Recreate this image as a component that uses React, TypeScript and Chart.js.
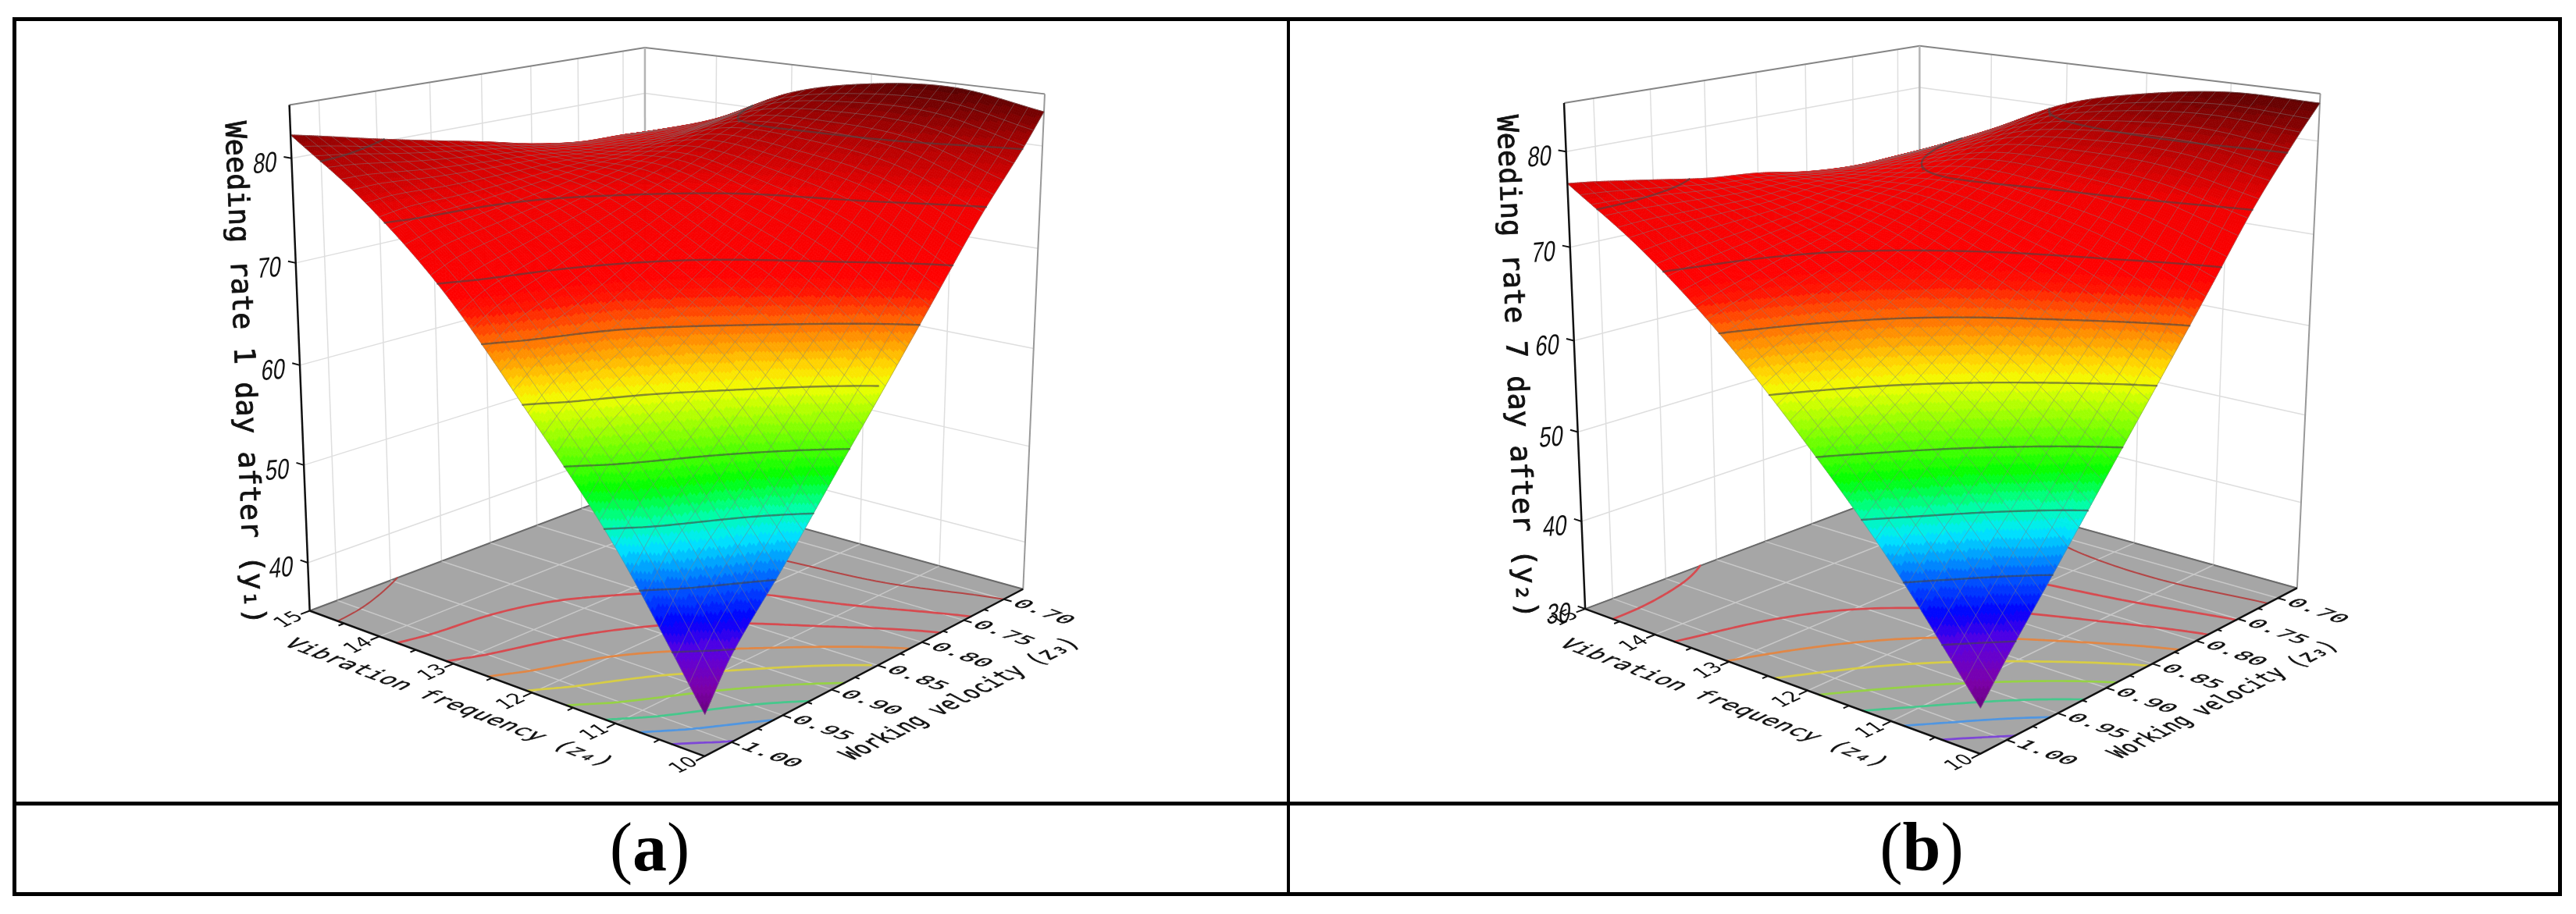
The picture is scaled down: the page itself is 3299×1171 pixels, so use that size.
import React, { useEffect, useRef } from "react";
import { Chart, registerables } from "chart.js";

Chart.register(...registerables);

// ---- data ----
const FREQUENCY = [10, 11, 12, 13, 14, 15];
const VELOCITY = [0.675, 0.7, 0.75, 0.8, 0.85, 0.9, 0.95, 1.0, 1.025];
const RATE_1_DAY = [
  [83.3, 80.2, 74.6, 68.2, 61.8, 55.5, 49.1, 43.1, 38.8],
  [84.6, 82.3, 78.0, 73.2, 68.4, 63.8, 59.1, 54.6, 51.3],
  [84.0, 82.4, 79.3, 75.9, 72.7, 69.6, 66.4, 63.5, 61.2],
  [82.1, 81.3, 79.6, 77.8, 76.2, 74.6, 73.1, 71.6, 70.3],
  [78.3, 77.9, 77.4, 77.1, 77.2, 77.1, 77.1, 77.3, 77.1],
  [75.7, 75.9, 76.1, 76.9, 78.1, 79.2, 80.35, 81.6, 82.2],
];
const RATE_7_DAY = [
  [84.0, 81.15, 74.9, 67.5, 60.2, 53.0, 45.7, 38.5, 34.6],
  [84.0, 81.8, 76.9, 71.2, 65.7, 60.1, 54.6, 49.2, 46.2],
  [82.7, 81.1, 77.4, 73.3, 69.5, 65.6, 61.8, 58.0, 55.9],
  [80.4, 79.3, 77.0, 74.5, 72.3, 69.9, 67.8, 65.6, 64.4],
  [76.2, 75.7, 74.6, 73.7, 73.3, 72.5, 72.1, 71.7, 71.3],
  [72.3, 72.3, 72.2, 72.7, 73.7, 74.3, 75.3, 76.3, 76.7],
];
const CONTOURS_1_DAY = [43.4, 48, 52.6, 57.2, 61.8, 66.4, 71, 75.6, 80.2];
const CONTOURS_7_DAY = [39.6, 44.6, 49.6, 54.6, 59.6, 64.6, 69.6, 74.6, 79.6];
const CONTOUR_COLORS = ["#7d46d7", "#5096e1", "#46c88c", "#96d246", "#d7cd46", "#e18746", "#d74b50", "#d74b50", "#b44646"];
const FREQ_TICKS = [10, 11, 12, 13, 14, 15];
const FREQ_MINOR = [10.5, 11.5, 12.5, 13.5, 14.5];
const VEL_TICKS = [0.7, 0.75, 0.8, 0.85, 0.9, 0.95, 1.0];
const VEL_MINOR = [0.725, 0.775, 0.825, 0.875, 0.925, 0.975];
const RATE_TICKS_A = [40, 50, 60, 70, 80];
const RATE_TICKS_B = [30, 40, 50, 60, 70, 80];
const COLOR_STOPS: [number, number, number, number][] = [
  [0, 105, 0, 130], [0.04, 125, 0, 170], [0.1, 90, 0, 225], [0.145, 0, 0, 255],
  [0.2, 0, 90, 255], [0.27, 0, 235, 255], [0.31, 0, 255, 160], [0.36, 0, 255, 0],
  [0.41, 90, 255, 0], [0.5, 240, 255, 0], [0.53, 255, 220, 0], [0.6, 255, 110, 0],
  [0.65, 255, 20, 0], [0.68, 255, 0, 0], [0.8, 242, 0, 0], [0.9, 175, 0, 0], [1, 85, 0, 0],
];

// ---- layout of each panel: page-pixel calibration of the view ----
const PANEL_A = {
  box: { x: 23, y: 30, w: 1625, h: 996 },
  rate: RATE_1_DAY, contours: CONTOURS_1_DAY, ticks: RATE_TICKS_A,
  zMin: 35, zMax: 85, cMin: 38.8, cMax: 84.8,
  title: "Weeding rate 1 day after (y\u2081)",
  titleAt: [311, 478], freqAt: [574, 901], velAt: [1231, 896], velFont: 26,
  calib: [
    [15, 1.025, 35, 398, 782], [15, 1.025, 85, 370.5, 133], [10, 0.675, 35, 1311, 754],
    [10, 0.675, 85, 1338, 122], [10, 1.025, 35, 906, 968], [15, 0.675, 85, 825, 60],
    [15, 0.675, 35, 826.5, 621], [15, 1.025, 40, 395.5, 721.7], [15, 1.025, 50, 390.2, 597.5],
    [15, 1.025, 60, 384.7, 468.5], [15, 1.025, 70, 379.1, 337], [15, 1.025, 80, 373.4, 202.6],
    [14, 1.025, 35, 484.7, 815], [13, 1.025, 35, 576.5, 851.7], [12, 1.025, 35, 681, 885],
    [11, 1.025, 35, 785.7, 928],
  ],
};
const PANEL_B = {
  box: { x: 1653, y: 30, w: 1623, h: 996 },
  rate: RATE_7_DAY, contours: CONTOURS_7_DAY, ticks: RATE_TICKS_B,
  zMin: 30, zMax: 85, cMin: 34.6, cMax: 84.6,
  title: "Weeding rate 7 day after (y\u2082)",
  titleAt: [1940, 470], freqAt: [2207, 901.5], velAt: [2849, 897], velFont: 25,
  calib: [
    [15, 1.025, 30, 2031, 780], [15, 1.025, 85, 2003, 130.4], [10, 0.675, 30, 2942, 753],
    [10, 0.675, 85, 2971, 120.6], [10, 1.025, 30, 2538.6, 966.7], [15, 0.675, 85, 2458, 57.7],
    [15, 0.675, 30, 2459, 620], [15, 1.025, 40, 2026, 668], [15, 1.025, 50, 2021.3, 554.5],
    [15, 1.025, 60, 2016.3, 438.5], [15, 1.025, 70, 2011, 318], [15, 1.025, 80, 2005.7, 194],
    [14, 1.025, 30, 2117, 811.6], [13, 1.025, 30, 2212.7, 846.9], [12, 1.025, 30, 2315, 884.5],
    [11, 1.025, 30, 2421, 923.5],
  ],
};

type Pt = { x: number; y: number };
const GAP: Pt = { x: NaN, y: NaN };

function solve(A: number[][], b: number[]) {
  const n = b.length;
  const M = A.map((r, i) => [...r, b[i]]);
  for (let c = 0; c < n; c++) {
    let p = c;
    for (let r = c + 1; r < n; r++) if (Math.abs(M[r][c]) > Math.abs(M[p][c])) p = r;
    [M[c], M[p]] = [M[p], M[c]];
    for (let r = 0; r < n; r++) {
      if (r === c) continue;
      const k = M[r][c] / M[c][c];
      for (let j = c; j <= n; j++) M[r][j] -= k * M[c][j];
    }
  }
  return M.map((r, i) => r[n] / r[i]);
}

function makeProjector(panel: any) {
  const norm = (f: number, v: number, z: number) => [
    (f - 10) / 5, (v - 0.675) / 0.35, (z - panel.zMin) / (panel.zMax - panel.zMin),
  ];
  const rows: number[][] = [];
  const rhs: number[] = [];
  for (const [f, v, z, px, py] of panel.calib) {
    const [a, b, c] = norm(f, v, z);
    const u = px / 1000, w = py / 1000;
    rows.push([1, a, b, c, 0, 0, 0, 0, -u * a, -u * b, -u * c]); rhs.push(u);
    rows.push([0, 0, 0, 0, 1, a, b, c, -w * a, -w * b, -w * c]); rhs.push(w);
  }
  const n = 11;
  const AtA = Array.from({ length: n }, () => new Array(n).fill(0));
  const Atb = new Array(n).fill(0);
  rows.forEach((r, k) => {
    for (let i = 0; i < n; i++) {
      Atb[i] += r[i] * rhs[k];
      for (let j = 0; j < n; j++) AtA[i][j] += r[i] * r[j];
    }
  });
  const p = solve(AtA, Atb);
  return (f: number, v: number, z: number): Pt => {
    const [a, b, c] = norm(f, v, z);
    const d = 1 + p[8] * a + p[9] * b + p[10] * c;
    return {
      x: (1000 * (p[0] + p[1] * a + p[2] * b + p[3] * c)) / d,
      y: (1000 * (p[4] + p[5] * a + p[6] * b + p[7] * c)) / d,
    };
  };
}

// smooth drawing of the surface between the values that were read
function smoothAt(xs: number[], ys: number[], x: number) {
  let i = 0;
  while (i < xs.length - 2 && x > xs[i + 1]) i++;
  const slope = (k: number) =>
    k === 0 ? (ys[1] - ys[0]) / (xs[1] - xs[0])
      : k === xs.length - 1 ? (ys[k] - ys[k - 1]) / (xs[k] - xs[k - 1])
        : (ys[k + 1] - ys[k - 1]) / (xs[k + 1] - xs[k - 1]);
  const h = xs[i + 1] - xs[i];
  const t = (x - xs[i]) / h;
  const t2 = t * t, t3 = t2 * t;
  return (2 * t3 - 3 * t2 + 1) * ys[i] + (t3 - 2 * t2 + t) * h * slope(i) +
    (-2 * t3 + 3 * t2) * ys[i + 1] + (t3 - t2) * h * slope(i + 1);
}

function colorAt(frac: number) {
  const q = Math.min(1, Math.max(0, frac));
  let i = 0;
  while (i < COLOR_STOPS.length - 2 && q > COLOR_STOPS[i + 1][0]) i++;
  const a = COLOR_STOPS[i], b = COLOR_STOPS[i + 1];
  const k = (q - a[0]) / (b[0] - a[0]);
  const ch = (n: number) => Math.round(a[n] + (b[n] - a[n]) * k);
  return `rgb(${ch(1)},${ch(2)},${ch(3)})`;
}

const labelPlugin = {
  id: "panelPainter",
  afterDatasetDraw(chart: any, args: any) {
    const ds = chart.data.datasets[args.index];
    if (!ds.cells) return;
    const { ctx, scales } = chart;
    ctx.save();
    ctx.lineWidth = 0.8;
    for (const c of ds.cells) {
      ctx.beginPath();
      c.poly.forEach((p: Pt, i: number) => {
        const X = scales.x.getPixelForValue(p.x), Y = scales.y.getPixelForValue(p.y);
        if (i === 0) ctx.moveTo(X, Y); else ctx.lineTo(X, Y);
      });
      ctx.closePath();
      ctx.fillStyle = c.color;
      ctx.strokeStyle = c.color;
      ctx.fill();
      ctx.stroke();
    }
    ctx.restore();
  },
  afterDraw(chart: any) {
    const { ctx, scales } = chart;
    for (const t of chart.options.plugins.panelPainter.texts) {
      ctx.save();
      ctx.translate(scales.x.getPixelForValue(t.x), scales.y.getPixelForValue(t.y));
      ctx.transform(t.b[0] * t.kx, t.b[1] * t.kx, -t.u[0] * t.ky, -t.u[1] * t.ky, 0, 0);
      ctx.font = t.font;
      ctx.fillStyle = "#111";
      ctx.strokeStyle = "#111";
      ctx.textAlign = "center";
      ctx.textBaseline = "middle";
      ctx.fillText(t.text, 0, 0);
      if (t.heavy) {
        ctx.lineWidth = t.heavy;
        ctx.strokeText(t.text, 0, 0);
      }
      ctx.restore();
    }
  },
};

function buildConfig(panel: any) {
  const P = makeProjector(panel);
  const V0 = 0.675, V1 = 1.025, F0 = 10, F1 = 15;
  const { zMin, zMax, rate, cMin, cMax } = panel;
  const line = (a: Pt, b: Pt) => [a, b, GAP];
  const sets: any[] = [];
  const add = (data: Pt[], color: string, width: number, order: number, extra: any = {}) =>
    sets.push({
      data, showLine: true, pointRadius: 0, borderColor: color, borderWidth: width,
      order, spanGaps: false, fill: false, ...extra,
    });

  // walls
  const wall: Pt[] = [];
  for (const v of VEL_TICKS) wall.push(...line(P(F1, v, zMin), P(F1, v, zMax)));
  for (const f of FREQ_TICKS.slice(1, 5)) wall.push(...line(P(f, V0, zMin), P(f, V0, zMax)));
  for (const z of panel.ticks) {
    wall.push(...line(P(F1, V1, z), P(F1, V0, z)));
    wall.push(...line(P(F1, V0, z), P(F0, V0, z)));
  }
  add(wall, "#dedede", 1.5, 20);
  add([...line(P(F1, V0, zMin), P(F1, V0, zMax))], "#b4b4b4", 2.5, 19);
  add([...line(P(F0, V0, zMin), P(F0, V0, zMax))], "#999999", 2, 19);
  add([P(F1, V1, zMax), P(F1, V0, zMax), P(F0, V0, zMax)], "#858585", 2, 19);

  // floor
  const corners = [P(F1, V1, zMin), P(F1, V0, zMin), P(F0, V0, zMin), P(F0, V1, zMin), P(F1, V1, zMin)];
  add(corners, "#a6a6a6", 1, 18, { fill: "shape", backgroundColor: "#a6a6a6" });
  add([P(F1, V1, zMin), P(F1, V0, zMin), P(F0, V0, zMin)], "#6a6a6a", 2, 17);
  const floorGrid: Pt[] = [];
  for (const v of VEL_TICKS) floorGrid.push(...line(P(F0, v, zMin), P(F1, v, zMin)));
  for (const f of FREQ_TICKS.slice(1, 5)) floorGrid.push(...line(P(f, V0, zMin), P(f, V1, zMin)));
  add(floorGrid, "rgba(255,255,255,0.38)", 1.5, 16);

  // fine table used for painting
  const N = 200;
  const sAt = (i: number) => F0 + ((F1 - F0) * i) / N;
  const tAt = (j: number) => V0 + ((V1 - V0) * j) / N;
  const Z: number[][] = [];
  for (let i = 0; i <= N; i++) Z.push(new Array(N + 1).fill(0));
  for (let j = 0; j <= N; j++) {
    const across = rate.map((row: number[]) => smoothAt(VELOCITY, row, tAt(j)));
    for (let i = 0; i <= N; i++) Z[i][j] = smoothAt(FREQUENCY, across, sAt(i));
  }

  // contour segments
  const contourSegs = (lev: number, atFloor: boolean) => {
    const out: Pt[] = [];
    const step = 2;
    const node = (i: number, j: number) => [sAt(i), tAt(j), Z[i][j]];
    const cross = (a: number[], b: number[]) => {
      const k = (lev - a[2]) / (b[2] - a[2]);
      return [a[0] + (b[0] - a[0]) * k, a[1] + (b[1] - a[1]) * k];
    };
    for (let i = 0; i < N; i += step) {
      for (let j = 0; j < N; j += step) {
        const q = [node(i, j), node(i + step, j), node(i + step, j + step), node(i, j + step)];
        const hits: number[][] = [];
        for (let e = 0; e < 4; e++) {
          const a = q[e], b = q[(e + 1) % 4];
          if ((a[2] - lev) * (b[2] - lev) < 0) hits.push(cross(a, b));
        }
        for (let h = 0; h + 1 < hits.length; h += 2) {
          const p = (g: number[]) => P(g[0], g[1], atFloor ? zMin : lev);
          out.push(p(hits[h]), p(hits[h + 1]), GAP);
        }
      }
    }
    return out;
  };
  panel.contours.forEach((lev: number, k: number) => {
    add(contourSegs(lev, true), CONTOUR_COLORS[k], k === 8 ? 2 : 2.7, 15, { borderCapStyle: "round" });
  });

  // surface cells, painted back to front
  const cells: any[] = [];
  const BANDS = 70;
  for (let i = N - 1; i >= 0; i--) {
    for (let j = 0; j < N; j++) {
      const z = (Z[i][j] + Z[i + 1][j] + Z[i][j + 1] + Z[i + 1][j + 1]) / 4;
      const frac = (z - cMin) / (cMax - cMin);
      const band = (Math.floor(frac * BANDS) + 0.5) / BANDS;
      cells.push({
        color: colorAt(band),
        poly: [
          P(sAt(i), tAt(j), Z[i][j]), P(sAt(i + 1), tAt(j), Z[i + 1][j]),
          P(sAt(i + 1), tAt(j + 1), Z[i + 1][j + 1]), P(sAt(i), tAt(j + 1), Z[i][j + 1]),
        ],
      });
    }
  }
  sets.push({ data: [P(F0, V1, zMin)], cells, showLine: false, pointRadius: 0, order: 10 });

  // mesh over the surface
  const MESH = 30;
  const mesh: Pt[] = [];
  for (let m = 0; m <= MESH; m++) {
    const fi = Math.round((N * m) / MESH);
    for (let k = 0; k <= N; k += 4) mesh.push(P(sAt(fi), tAt(k), Z[fi][k]));
    mesh.push(GAP);
    for (let k = 0; k <= N; k += 4) mesh.push(P(sAt(k), tAt(fi), Z[k][fi]));
    mesh.push(GAP);
  }
  add(mesh, "rgba(125,125,125,0.5)", 1, 9);
  panel.contours.forEach((lev: number) => {
    add(contourSegs(lev, false), "rgba(70,70,70,0.62)", 2.4, 8, { borderCapStyle: "round" });
  });

  // front axes and ticks
  add([P(F1, V1, zMin), P(F0, V1, zMin), P(F0, V0, zMin)], "#111", 2.5, 5);
  add([P(F1, V1, zMin), P(F1, V1, zMax)], "#111", 2.5, 5);
  const tk: Pt[] = [];
  for (const f of FREQ_TICKS) tk.push(...line(P(f, V1, zMin), P(f, V1 + 0.008, zMin)));
  for (const f of FREQ_MINOR) tk.push(...line(P(f, V1, zMin), P(f, V1 + 0.005, zMin)));
  for (const v of VEL_TICKS) tk.push(...line(P(F0, v, zMin), P(F0 - 0.09, v, zMin)));
  for (const v of VEL_MINOR) tk.push(...line(P(F0, v, zMin), P(F0 - 0.05, v, zMin)));
  for (const z of panel.ticks) tk.push(...line(P(F1, V1, z), P(F1 + 0.11, V1, z)));
  add(tk, "#111", 2, 5);

  // texts
  const texts: any[] = [];
  const deg = (d: number) => [Math.cos((d * Math.PI) / 180), Math.sin((d * Math.PI) / 180)];
  for (const z of panel.ticks) {
    const p = P(F1, V1, z);
    texts.push({
      text: String(z), x: p.x - 34, y: p.y + 8, font: "37px 'Liberation Sans'",
      b: deg(-5), u: [0.12, -0.99], kx: 0.74, ky: 1,
    });
  }
  for (const f of FREQ_TICKS) {
    const p = P(f, V1, zMin);
    texts.push({
      text: String(f), x: p.x - 26, y: p.y + 12, font: "23px 'DejaVu Sans'",
      b: deg(-25), u: [-0.82, -0.57], kx: 1.05, ky: 1.1,
    });
  }
  for (const v of VEL_TICKS) {
    const p = P(F0, v, zMin);
    texts.push({
      text: v.toFixed(2), x: p.x + 50, y: p.y + 17, font: "24px 'DejaVu Sans Mono'", heavy: 0.4,
      b: deg(20), u: [0.88, -0.47], kx: 1.3, ky: 1,
    });
  }
  texts.push({
    text: "Vibration frequency (z\u2084)", x: panel.freqAt[0], y: panel.freqAt[1], heavy: 0.4,
    font: "28px 'DejaVu Sans Mono'", b: deg(20.8), u: [0.88, -0.47], kx: 1.09, ky: 1.05,
  });
  texts.push({
    text: "Working velocity (z\u2083)", x: panel.velAt[0], y: panel.velAt[1], heavy: 0.5,
    font: `${panel.velFont}px 'DejaVu Sans Mono'`, b: deg(-27), u: [-0.88, -0.47], kx: 1, ky: 1.25,
  });
  texts.push({
    text: panel.title, x: panel.titleAt[0], y: panel.titleAt[1], heavy: 0.8,
    font: "37px 'DejaVu Sans Mono'", b: [0.04, 0.999], u: [0.999, -0.04], kx: 1, ky: 1,
  });

  const { x, y, w, h } = panel.box;
  return {
    type: "scatter",
    data: { datasets: sets },
    plugins: [labelPlugin],
    options: {
      animation: false,
      responsive: false,
      maintainAspectRatio: false,
      layout: { padding: 0 },
      events: [],
      scales: {
        x: { type: "linear", display: false, min: x, max: x + w },
        y: { type: "linear", display: false, min: y, max: y + h, reverse: true },
      },
      plugins: { legend: { display: false }, tooltip: { enabled: false }, panelPainter: { texts } },
    },
  };
}

function Panel({ panel }: { panel: any }) {
  const ref = useRef<HTMLCanvasElement>(null);
  useEffect(() => {
    const chart = new Chart(ref.current!, buildConfig(panel) as any);
    return () => chart.destroy();
  }, [panel]);
  const { x, y, w, h } = panel.box;
  return (
    <canvas
      ref={ref}
      width={w}
      height={h}
      style={{ position: "absolute", left: x, top: y, width: w, height: h }}
    />
  );
}

const rule = (left: number, top: number, width: number, height: number) => (
  <div style={{ position: "absolute", left, top, width, height, background: "#000" }} />
);
const caption = (cx: number, letter: string) => (
  <div
    style={{
      position: "absolute", left: cx - 100, width: 200, top: 1036, height: 100,
      textAlign: "center", font: "88px/100px 'Liberation Serif'", color: "#000",
    }}
  >
    (<b>{letter}</b>)
  </div>
);

export default function App() {
  return (
    <div style={{ position: "absolute", left: 0, top: 0, width: 3299, height: 1171, background: "#fff", overflow: "hidden" }}>
      <Panel panel={PANEL_A} />
      <Panel panel={PANEL_B} />
      {rule(16, 22, 3265, 5)}
      {rule(16, 1027, 3265, 5)}
      {rule(16, 1143, 3265, 5)}
      {rule(16, 22, 5, 1126)}
      {rule(3276, 22, 5, 1126)}
      {rule(1648, 22, 4, 1126)}
      {caption(832, "a")}
      {caption(2461, "b")}
    </div>
  );
}
